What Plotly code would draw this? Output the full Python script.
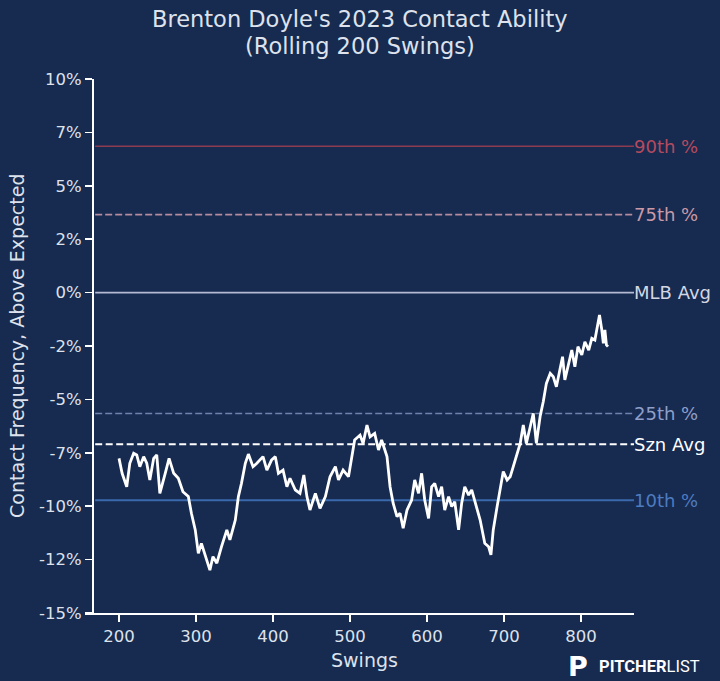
import plotly.graph_objects as go

# ---- data ----
swings = [200, 204, 210, 214, 219, 223, 227, 232, 236, 240, 245, 249, 253, 257, 260, 265, 271, 277, 283, 290,
          294, 299, 303, 307, 312, 318, 322, 327, 333, 340, 344, 351, 355, 359, 364, 368, 374, 379, 387, 392,
          398, 403, 407, 413, 418, 422, 429, 435, 440, 444, 448, 455, 461, 468, 474, 481, 485, 491, 498, 502,
          506, 513, 517, 522, 526, 532, 537, 541, 548, 552, 556, 561, 565, 569, 574, 580, 584, 589, 593, 597,
          602, 606, 610, 615, 619, 623, 628, 632, 636, 641, 645, 649, 654, 658, 662, 669, 675, 680, 683, 686,
          691, 695, 699, 704, 708, 712, 716, 721, 725, 729, 734, 738, 742, 747, 751, 755, 760, 764, 768, 773,
          776, 779, 784, 788, 792, 796, 801, 805, 810, 814, 818, 821, 824, 827, 829, 831, 833, 835]
contact = [-7.76, -8.46, -9.09, -7.99, -7.52, -7.60, -8.15, -7.68, -7.99, -8.77, -7.76, -7.60, -9.40, -8.90, -8.46, -7.76, -8.46, -8.69, -9.32, -9.55,
           -10.33, -11.11, -12.21, -11.74, -12.36, -12.99, -12.36, -12.67, -11.90, -11.11, -11.58, -10.65, -9.55, -8.93, -7.99, -7.56, -8.15, -7.99, -7.68, -8.31,
           -7.84, -7.68, -8.46, -8.31, -9.09, -8.69, -9.24, -9.40, -8.54, -9.55, -10.18, -9.40, -10.10, -9.55, -8.62, -8.15, -8.77, -8.31, -8.62, -7.68,
           -6.90, -6.67, -7.06, -6.20, -6.75, -6.59, -7.37, -6.90, -7.68, -9.09, -9.86, -10.49, -10.33, -11.03, -10.18, -9.71, -8.77, -9.40, -8.46, -9.71,
           -10.57, -9.09, -8.93, -9.55, -9.09, -10.18, -9.55, -10.02, -9.79, -11.11, -9.86, -9.09, -9.48, -9.24, -9.71, -10.65, -11.74, -11.90, -12.28, -11.11,
           -10.02, -9.09, -8.38, -8.77, -8.62, -8.15, -7.68, -7.06, -6.20, -7.06, -6.28, -5.65, -7.06, -5.77, -5.10, -4.25, -3.78, -3.94, -4.41, -3.47,
           -3.00, -4.09, -3.31, -2.69, -3.47, -2.53, -2.92, -2.30, -2.69, -2.14, -2.22, -1.60, -1.05, -1.75, -2.37, -1.75, -2.45, -2.53]

ref_names = ["90th %", "75th %", "MLB Avg", "25th %", "Szn Avg", "10th %"]
ref_values = [6.85, 3.65, 0.0, -5.66, -7.10, -9.72]

ytick_vals = [10, 7.5, 5, 2.5, 0, -2.5, -5, -7.5, -10, -12.5, -15]
ytick_text = ["10%", "7%", "5%", "2%", "0%", "-2%", "-5%", "-7%", "-10%", "-12%", "-15%"]
xtick_vals = [200, 300, 400, 500, 600, 700, 800]

# ---- styles ----
BG = "#172a50"
FONT = "DejaVu Sans"
TXT = "#dde2ec"
ref_line_colors = ["#8e3b52", "#b48c9e", "#b3bad2", "#7182ad", "#ffffff", "#3a6aad"]
ref_text_colors = ["#b54a5f", "#c99aa7", "#d3d7e3", "#8e9fc9", "#ffffff", "#4d7cc0"]
ref_dash = ["solid", "7px,3px", "solid", "7px,3px", "7px,3.5px", "solid"]
ref_width = [1.6, 1.6, 1.6, 1.6, 2.2, 2.0]

W, H = 720, 681
PL, PR, PT, PB = 85, 634, 79, 613   # plot area in window pixels
L, R, T, B = PL, W - PR, PT, H - PB
XMIN, XMAX = 155.8, 868.8
YSPINE_PX = 93


def py2paper(py):
    return (PB - py) / (PB - PT)


def px2paper(px):
    return (px - PL) / (PR - PL)


yspine_paper = px2paper(YSPINE_PX)

fig = go.Figure()

shapes = []
annotations = []
for name, v, lc, tc, d, w in zip(ref_names, ref_values, ref_line_colors, ref_text_colors, ref_dash, ref_width):
    shapes.append(dict(type="line", xref="paper", yref="y", x0=yspine_paper + 0.004, x1=1, y0=v, y1=v,
                       line=dict(color=lc, width=w, dash=d), layer="below"))
    annotations.append(dict(text=name, xref="paper", yref="y", x=1, y=v, xanchor="left", yanchor="middle",
                            showarrow=False, font=dict(family=FONT, size=18, color=tc), xshift=-2))

fig.add_trace(go.Scatter(x=swings, y=contact, mode="lines",
                         line=dict(color="white", width=2.8), showlegend=False, hoverinfo="skip"))

# titles
annotations.append(dict(text="Brenton Doyle's 2023 Contact Ability", xref="paper", yref="paper",
                        x=px2paper(360), y=py2paper(19), xanchor="center", yanchor="middle", showarrow=False,
                        font=dict(family=FONT, size=22.5, color=TXT)))
annotations.append(dict(text="(Rolling 200 Swings)", xref="paper", yref="paper",
                        x=px2paper(360), y=py2paper(46), xanchor="center", yanchor="middle", showarrow=False,
                        font=dict(family=FONT, size=22.5, color=TXT)))
# axis titles
annotations.append(dict(text="Contact Frequency, Above Expected", xref="paper", yref="paper",
                        x=px2paper(17), y=py2paper(346), xanchor="center", yanchor="middle", textangle=-90,
                        showarrow=False, font=dict(family=FONT, size=19, color=TXT)))
annotations.append(dict(text="Swings", xref="paper", yref="paper",
                        x=px2paper(364), y=py2paper(660), xanchor="center", yanchor="middle",
                        showarrow=False, font=dict(family=FONT, size=19, color=TXT)))
# logo
annotations.append(dict(text="<b>P</b>", xref="paper", yref="paper",
                        x=px2paper(578), y=py2paper(666), xanchor="center", yanchor="middle",
                        showarrow=False, font=dict(family="DejaVu Sans", size=27, color="white")))
annotations.append(dict(text="<b>PITCHER</b>LIST", xref="paper", yref="paper",
                        x=px2paper(597), y=py2paper(666), xanchor="left", yanchor="middle",
                        showarrow=False, font=dict(family="Roboto", size=16.5, color="white")))

fig.update_layout(
    width=W, height=H,
    margin=dict(l=L, r=R, t=T, b=B, pad=0),
    paper_bgcolor=BG, plot_bgcolor=BG,
    shapes=shapes, annotations=annotations,
    showlegend=False,
    xaxis=dict(range=[XMIN, XMAX], tickvals=xtick_vals, ticks="outside", ticklen=7, tickwidth=1.5,
               tickcolor="white", showgrid=False, zeroline=False, showline=True, linecolor="white",
               linewidth=2, tickfont=dict(family=FONT, size=16.5, color=TXT)),
    yaxis=dict(range=[-15, 10], tickvals=ytick_vals, ticktext=ytick_text, ticks="outside", ticklen=7,
               tickwidth=1.5, tickcolor="white", showgrid=False, zeroline=False, showline=True,
               linecolor="white", linewidth=2, anchor="free", position=yspine_paper,
               tickfont=dict(family=FONT, size=16.5, color=TXT)),
)

page_fix = ("document.body.style.margin='0';document.body.style.padding='0';"
            "document.body.style.background='%s';document.body.style.overflow='hidden';" % BG)
fig.write_html("out.html", post_script=page_fix, config={"displayModeBar": False, "staticPlot": True})
